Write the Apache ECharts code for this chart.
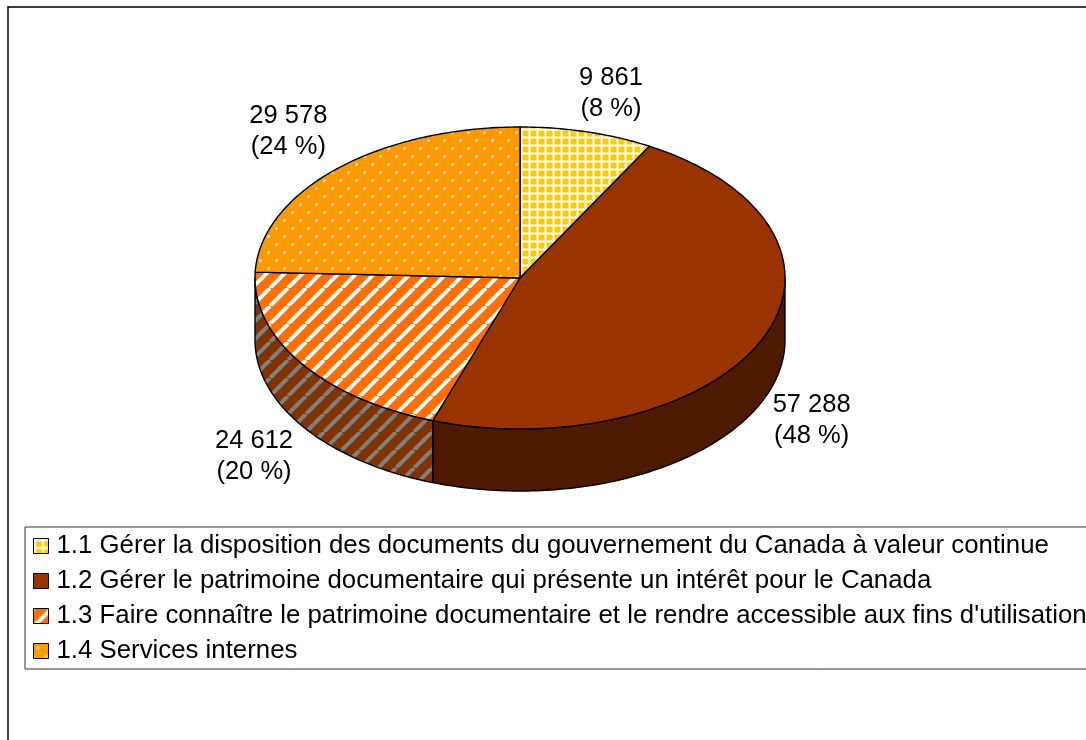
<!DOCTYPE html>
<html>
<head>
<meta charset="utf-8">
<title>Dépenses par résultat</title>
<script src="https://cdn.jsdelivr.net/npm/echarts@6/dist/echarts.min.js"></script>
<style>
  html, body { margin: 0; padding: 0; background: #fff; overflow: hidden; }
  #chart { width: 1086px; height: 740px; }
</style>
</head>
<body>
<div id="chart"></div>
<script>
// values
const categories = [
  '1.1 Gérer la disposition des documents du gouvernement du Canada à valeur continue',
  '1.2 Gérer le patrimoine documentaire qui présente un intérêt pour le Canada',
  "1.3 Faire connaître le patrimoine documentaire et le rendre accessible aux fins d'utilisation",
  '1.4 Services internes'
]
const values = [9861, 57288, 24612, 29578]
const valueLabels = ['9 861', '57 288', '24 612', '29 578']
const percentLabels = ['(8 %)', '(48 %)', '(20 %)', '(24 %)']

// pie shape on screen
const CX = 520
const CY = 278
const RX = 265
const RY = 151
const DEPTH = 62
const FONT = '"Liberation Sans", Arial, sans-serif'
const LABEL_SIZE = 25.5
const LEGEND_SIZE = 25.8

// label position relative to the rim point at the middle of the slice
const labelOffsets = [[24, -38], [50, 80], [-47, 93], [-48, -38]]

const total = values.reduce((a, b) => a + b, 0)

const tile = (size, draw) => {
  const c = document.createElement('canvas')
  c.width = size
  c.height = size
  draw(c.getContext('2d'), size)
  return { image: c, repeat: 'repeat' }
}

const gridPattern = tile(8, (g, s) => {
  g.fillStyle = '#ffcc00'
  g.fillRect(0, 0, s, s)
  g.fillStyle = 'rgba(255,255,255,0.5)'
  g.fillRect(0, 0, 3, s)
  g.fillRect(0, 0, s, 3)
  g.fillStyle = '#fff'
  g.fillRect(1, 0, 1, s)
  g.fillRect(0, 1, s, 1)
})

const stripes = (bg, fg) => tile(18, (g, s) => {
  g.fillStyle = bg
  g.fillRect(0, 0, s, s)
  g.strokeStyle = fg
  g.lineWidth = 4
  for (const d of [-s, 0, s]) {
    g.beginPath()
    g.moveTo(d, s)
    g.lineTo(d + s, 0)
    g.stroke()
  }
})

const dotPattern = tile(16, (g, s) => {
  g.fillStyle = '#ff9900'
  g.fillRect(0, 0, s, s)
  g.fillStyle = 'rgba(255,255,255,0.45)'
  g.fillRect(3, 3, 3, 3)
  g.fillRect(11, 11, 3, 3)
  g.fillStyle = '#fff'
  g.fillRect(4, 4, 1, 1)
  g.fillRect(12, 12, 1, 1)
})

const topFills = [gridPattern, '#993300', stripes('#ff6f00', '#fff'), dotPattern]
const wallFills = ['#7f6600', '#4d1a00', stripes('#803300', '#808080'), '#804d00']

const rimPoint = (a, dy) => [CX + RX * Math.sin(a), CY + dy - RY * Math.cos(a)]

const arcPoints = (a0, a1, dy) => {
  const n = Math.max(2, Math.ceil(Math.abs(a1 - a0) / (Math.PI / 180)))
  const pts = []
  for (let i = 0; i <= n; i++) {
    pts.push(rimPoint(a0 + (a1 - a0) * i / n, dy))
  }
  return pts
}

const sliceAngles = (idx) => {
  const before = values.slice(0, idx).reduce((a, b) => a + b, 0)
  return [before / total * 2 * Math.PI, (before + values[idx]) / total * 2 * Math.PI]
}

const outline = { stroke: '#000', lineWidth: 1.4, lineJoin: 'round' }

const renderSlice = (idx) => () => {
  const [a0, a1] = sliceAngles(idx)
  const children = []

  // only the front half of the rim shows a side wall
  const w0 = Math.max(a0, Math.PI / 2)
  const w1 = Math.min(a1, Math.PI * 1.5)
  if (w1 > w0) {
    children.push({
      type: 'polygon',
      shape: { points: arcPoints(w0, w1, 0).concat(arcPoints(w1, w0, DEPTH)) },
      style: { fill: wallFills[idx], ...outline }
    })
  }

  children.push({
    type: 'polygon',
    shape: { points: [[CX, CY]].concat(arcPoints(a0, a1, 0)) },
    style: { fill: topFills[idx], ...outline }
  })

  const mid = rimPoint((a0 + a1) / 2, 0)
  children.push({
    type: 'text',
    style: {
      x: mid[0] + labelOffsets[idx][0],
      y: mid[1] + labelOffsets[idx][1],
      text: valueLabels[idx] + '\n' + percentLabels[idx],
      fill: '#000',
      fontFamily: FONT,
      fontSize: LABEL_SIZE,
      lineHeight: 31,
      align: 'center',
      verticalAlign: 'middle'
    }
  })

  return { type: 'group', children }
}

const chart = echarts.init(document.getElementById('chart'), null, { renderer: 'canvas' })

chart.setOption({
  animation: false,
  backgroundColor: '#fff',
  graphic: [{
    type: 'rect',
    shape: { x: 8, y: 7, width: 1200, height: 900 },
    style: { fill: 'none', stroke: '#000', lineWidth: 1.5 },
    silent: true
  }],
  legend: {
    orient: 'vertical',
    left: 25,
    top: 527,
    padding: [1, 10, 0, 8],
    itemWidth: 15,
    itemHeight: 15,
    itemGap: -1,
    borderColor: '#333',
    borderWidth: 1,
    selectedMode: false,
    align: 'left',
    icon: 'rect',
    textStyle: {
      fontFamily: FONT,
      fontSize: LEGEND_SIZE,
      lineHeight: 26,
      color: '#000',
      padding: [10, 0, 0, 3]
    },
    data: categories.map((name, i) => ({
      name,
      itemStyle: { color: topFills[i], borderColor: '#000', borderWidth: 1 }
    }))
  },
  series: categories.map((name, i) => ({
    type: 'custom',
    name,
    coordinateSystem: 'none',
    silent: true,
    data: [values[i]],
    renderItem: renderSlice(i)
  }))
})
</script>
</body>
</html>
